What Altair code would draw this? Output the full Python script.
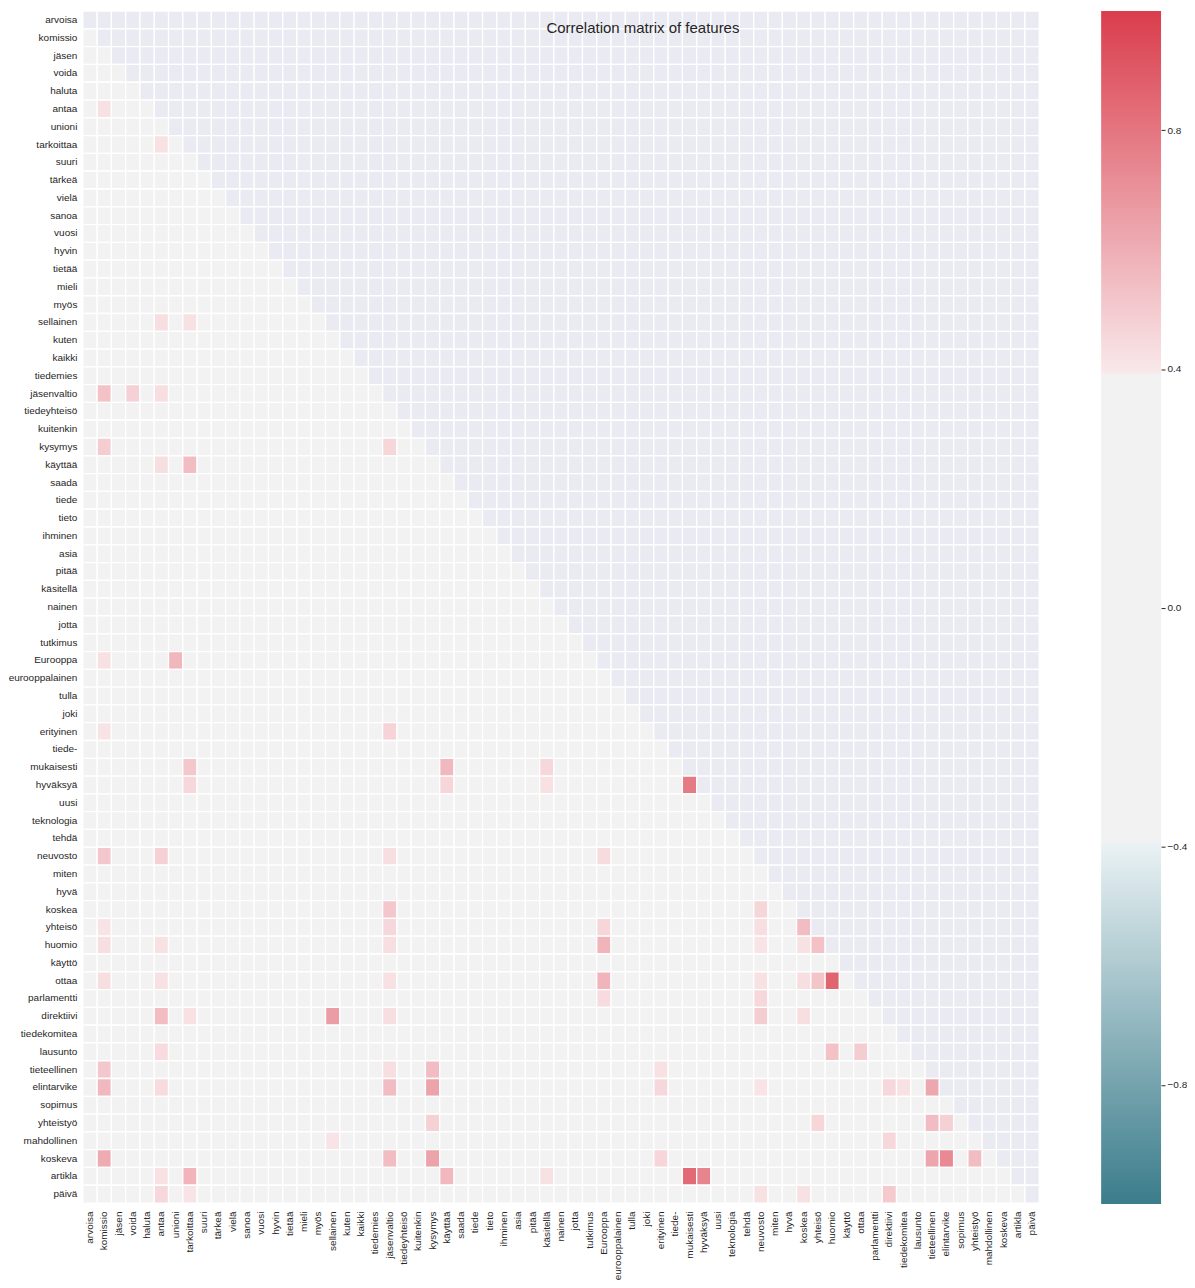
import altair as alt
import pandas as pd

FONT = "Liberation Sans"
TEXT_COLOR = "#262626"
TITLE = "Correlation matrix of features"

LABELS = [
    "arvoisa", "komissio", "jäsen", "voida", "haluta", "antaa", "unioni", "tarkoittaa",
    "suuri", "tärkeä", "vielä", "sanoa", "vuosi", "hyvin", "tietää", "mieli", "myös",
    "sellainen", "kuten", "kaikki", "tiedemies", "jäsenvaltio", "tiedeyhteisö", "kuitenkin",
    "kysymys", "käyttää", "saada", "tiede", "tieto", "ihminen", "asia", "pitää", "käsitellä",
    "nainen", "jotta", "tutkimus", "Eurooppa", "eurooppalainen", "tulla", "joki", "erityinen",
    "tiede-", "mukaisesti", "hyväksyä", "uusi", "teknologia", "tehdä", "neuvosto", "miten",
    "hyvä", "koskea", "yhteisö", "huomio", "käyttö", "ottaa", "parlamentti", "direktiivi",
    "tiedekomitea", "lausunto", "tieteellinen", "elintarvike", "sopimus", "yhteistyö",
    "mahdollinen", "koskeva", "artikla", "päivä",
]

# notable (coloured) correlations: row word, column word, value
PAIR_ROW = [
    "antaa", "tarkoittaa", "sellainen", "sellainen",
    "jäsenvaltio", "jäsenvaltio", "jäsenvaltio",
    "kysymys", "kysymys", "käyttää", "käyttää",
    "Eurooppa", "Eurooppa", "erityinen", "erityinen",
    "mukaisesti", "mukaisesti", "mukaisesti",
    "hyväksyä", "hyväksyä", "hyväksyä", "hyväksyä",
    "neuvosto", "neuvosto", "neuvosto", "neuvosto",
    "koskea", "koskea",
    "yhteisö", "yhteisö", "yhteisö", "yhteisö", "yhteisö",
    "huomio", "huomio", "huomio", "huomio", "huomio", "huomio", "huomio",
    "ottaa", "ottaa", "ottaa", "ottaa", "ottaa", "ottaa", "ottaa", "ottaa",
    "parlamentti", "parlamentti",
    "direktiivi", "direktiivi", "direktiivi", "direktiivi", "direktiivi", "direktiivi",
    "lausunto", "lausunto", "lausunto",
    "tieteellinen", "tieteellinen", "tieteellinen", "tieteellinen",
    "elintarvike", "elintarvike", "elintarvike", "elintarvike", "elintarvike",
    "elintarvike", "elintarvike", "elintarvike", "elintarvike",
    "yhteistyö", "yhteistyö", "yhteistyö", "yhteistyö",
    "mahdollinen", "mahdollinen",
    "koskeva", "koskeva", "koskeva", "koskeva", "koskeva", "koskeva", "koskeva",
    "artikla", "artikla", "artikla", "artikla", "artikla", "artikla",
    "päivä", "päivä", "päivä", "päivä", "päivä",
]
PAIR_COL = [
    "komissio", "antaa", "antaa", "tarkoittaa",
    "komissio", "voida", "antaa",
    "komissio", "jäsenvaltio", "antaa", "tarkoittaa",
    "komissio", "unioni", "komissio", "jäsenvaltio",
    "tarkoittaa", "käyttää", "käsitellä",
    "tarkoittaa", "käyttää", "käsitellä", "mukaisesti",
    "komissio", "antaa", "jäsenvaltio", "Eurooppa",
    "jäsenvaltio", "neuvosto",
    "komissio", "jäsenvaltio", "Eurooppa", "neuvosto", "koskea",
    "komissio", "antaa", "jäsenvaltio", "Eurooppa", "neuvosto", "koskea", "yhteisö",
    "komissio", "antaa", "jäsenvaltio", "Eurooppa", "neuvosto", "koskea", "yhteisö", "huomio",
    "Eurooppa", "neuvosto",
    "antaa", "tarkoittaa", "sellainen", "jäsenvaltio", "neuvosto", "koskea",
    "antaa", "huomio", "ottaa",
    "komissio", "jäsenvaltio", "kysymys", "erityinen",
    "komissio", "antaa", "jäsenvaltio", "kysymys", "erityinen",
    "neuvosto", "direktiivi", "tiedekomitea", "tieteellinen",
    "kysymys", "yhteisö", "tieteellinen", "elintarvike",
    "sellainen", "direktiivi",
    "komissio", "jäsenvaltio", "kysymys", "erityinen", "tieteellinen", "elintarvike", "yhteistyö",
    "antaa", "tarkoittaa", "käyttää", "käsitellä", "mukaisesti", "hyväksyä",
    "antaa", "tarkoittaa", "neuvosto", "koskea", "direktiivi",
]
PAIR_VAL = [
    0.42, 0.42, 0.43, 0.42,
    0.53, 0.48, 0.43,
    0.49, 0.46, 0.43, 0.55,
    0.42, 0.57, 0.41, 0.47,
    0.51, 0.56, 0.45,
    0.45, 0.46, 0.42, 0.78,
    0.51, 0.48, 0.43, 0.44,
    0.51, 0.46,
    0.41, 0.45, 0.46, 0.43, 0.55,
    0.43, 0.42, 0.43, 0.58, 0.41, 0.42, 0.53,
    0.43, 0.42, 0.42, 0.58, 0.42, 0.43, 0.52, 0.86,
    0.44, 0.45,
    0.55, 0.42, 0.66, 0.43, 0.49, 0.43,
    0.44, 0.53, 0.49,
    0.51, 0.43, 0.55, 0.42,
    0.56, 0.44, 0.55, 0.64, 0.45,
    0.41, 0.45, 0.42, 0.62,
    0.48, 0.46, 0.55, 0.48,
    0.41, 0.45,
    0.61, 0.55, 0.64, 0.46, 0.63, 0.73, 0.55,
    0.42, 0.58, 0.56, 0.42, 0.84, 0.75,
    0.45, 0.41, 0.42, 0.42, 0.50,
]
BASE_VALUE = 0.05  # all other (grey) cells: |r| below the colour threshold

CB_TICKS = [-0.8, -0.4, 0.0, 0.4, 0.8]
DOMAIN_STOPS = [-1.0, -0.395, -0.39, 0.39, 0.395, 1.0]
RANGE_STOPS = ["#3B7C8B", "#EAF2F4", "#F2F2F2", "#F2F2F2", "#F9E8EA", "#DA3D4C"]
MASK_COLOR = "#EAEAF2"

lookup = {(r, c): v for r, c, v in zip(PAIR_ROW, PAIR_COL, PAIR_VAL)}
records = []
for i, r in enumerate(LABELS):
    for j, c in enumerate(LABELS):
        records.append({"row": r, "col": c, "ri": i, "ci": j,
                        "v": lookup.get((r, c), BASE_VALUE)})
df = pd.DataFrame(records)

band = alt.Scale(paddingInner=0, paddingOuter=0)

heat = alt.Chart(df).mark_rect(stroke="white", strokeWidth=1.3).encode(
    x=alt.X("col:N", sort=LABELS, scale=band,
            axis=alt.Axis(title=None, labelAngle=-90, ticks=False, tickSize=0,
                          domain=False, grid=False, labelPadding=8)),
    y=alt.Y("row:N", sort=LABELS, scale=band,
            axis=alt.Axis(title=None, ticks=False, tickSize=0, domain=False,
                          grid=False, labelPadding=6)),
    color=alt.condition(
        "datum.ci >= datum.ri",
        alt.value(MASK_COLOR),
        alt.Color("v:Q", scale=alt.Scale(domain=DOMAIN_STOPS, range=RANGE_STOPS,
                                         interpolate="rgb"), legend=None),
    ),
)

title_layer = alt.Chart(pd.DataFrame({"t": [TITLE]})).mark_text(
    fontSize=15, font=FONT, color=TEXT_COLOR, align="center", baseline="alphabetic"
).encode(text="t:N", x=alt.value(561), y=alt.value(22))

left = alt.layer(heat, title_layer).properties(width=958, height=1194)

grad = alt.Gradient(
    gradient="linear",
    stops=[alt.GradientStop(color=c, offset=(d + 1) / 2) for d, c in zip(DOMAIN_STOPS, RANGE_STOPS)],
    x1=0, x2=0, y1=1, y2=0,
)

cb = alt.Chart(pd.DataFrame({"lo": [-1.0], "hi": [1.0]})).mark_rect(fill=grad).encode(
    y=alt.Y("lo:Q", scale=alt.Scale(domain=[-1, 1], nice=False, zero=False),
            axis=alt.Axis(orient="right", values=CB_TICKS, format=".1f",
                          labelExpr="replace(datum.label, '-', '\u2212')",
                          title=None, domain=False, grid=False, tickSize=4,
                          tickColor=TEXT_COLOR, labelPadding=2)),
    y2="hi:Q",
    x=alt.value(0),
    x2=alt.value(60),
).properties(width=60, height=1195)

chart = alt.hconcat(left, cb, spacing=61).resolve_scale(
    x="independent", y="independent"
).properties(
    padding={"left": 0, "top": 1, "right": 0, "bottom": 5},
    background="white",
).configure_view(stroke=None).configure_axis(
    labelFont=FONT, labelFontSize=10, labelColor=TEXT_COLOR
)

chart.save("out.html", embed_options={"renderer": "svg", "actions": False})
